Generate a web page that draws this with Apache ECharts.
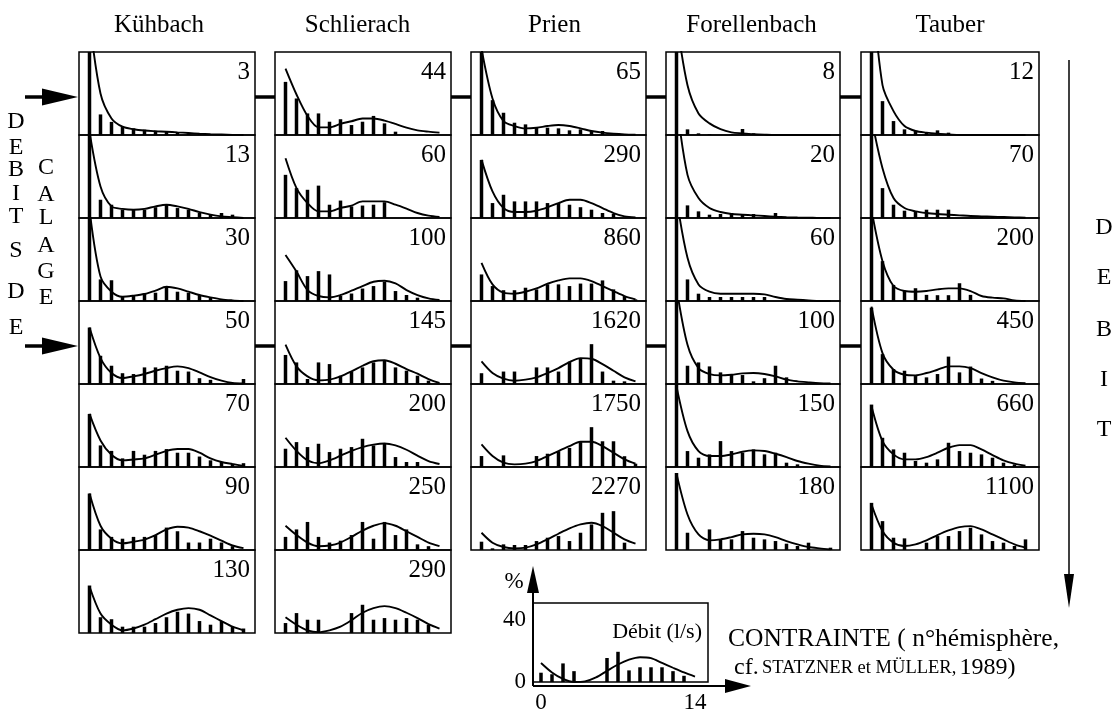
<!DOCTYPE html>
<html><head><meta charset="utf-8">
<script src="https://cdn.jsdelivr.net/npm/echarts@6.0.0/dist/echarts.min.js"></script>
<style>html,body{margin:0;padding:0;background:#fff;}#chart{width:1117px;height:714px;}</style>
</head><body><div id="chart"></div>
<script>
// x axis: stress classes (FST hemisphere number 0..14), y axis: % of individuals
const stressClasses = [0,1,2,3,4,5,6,7,8,9,10,11,12,13,14];
const streams = ['Kühbach','Schlierach','Prien','Forellenbach','Tauber'];

// discharge (l/s) of each panel
const kuhbachFlows = [3,13,30,50,70,90,130];
const schlierachFlows = [44,60,100,145,200,250,290];
const prienFlows = [65,290,860,1620,1750,2270];
const forellenbachFlows = [8,20,60,100,150,180];
const tauberFlows = [12,70,200,450,660,1100];

// histogram bars (%), one row per discharge
const kuhbachBars = [
  [70,12.4,7.9,5,4,3.2,2.6,2.2,1.6,1,1.2,0,0,0,0],
  [70,11,8,5,5,5,6.5,8,6,5,3,2,3,2,0],
  [70,13,12.5,3,3.6,4.6,5,9,5.6,5,3.6,2.2,0,0,0],
  [34,17,11,6.5,6,10,10,11,8,7.5,3.5,2.5,0,0,3],
  [32,13,9.7,5.2,9.7,7.4,9.7,10.8,8.6,8.6,6.3,4,3,1.8,2.3],
  [34,12.4,7.9,6.8,7.9,7.9,9,13.5,11.3,4.5,4.5,6.8,4.5,2.3,0],
  [28.6,9.5,8.3,3.8,3.8,3.8,6,9.5,12.8,11.7,7.2,5,7.2,3.8,2.7]
];
const schlierachBars = [
  [32,22,13,13,8,9.5,6,8,11.5,7,2,0,0,0,0],
  [26,18,17,19.5,8,10.5,7,7.5,8,9.5,0,0,0,0,0],
  [12,18.5,15,18,16,3,4.5,7.5,9,11.6,6,3.6,2,0,0],
  [17.5,13,3,13,12,5,7.5,10,13,14,10,8,5,2,0],
  [11,15,12,14,9,11,12,17,13,14,6,3,3,0,0],
  [7.9,12.4,16.9,7.9,4.5,5.6,9,16.9,6.8,16.9,9,12.4,3.4,2.3,0],
  [6,12,8,8,0,0,12,17,8,9,8,9,8,5,0]
];
const prienBars = [
  [70,21,13.4,7.4,6.4,4.8,4.4,4,2.8,3.4,2.4,2.4,0,0,0],
  [35,9,14,10,10,10,9,9,8,6.5,5,3,2.5,0,0],
  [16,9,6.5,6.5,8,7,10,10,9,10.5,10.5,12.4,7,3,1],
  [6.5,0,7.5,7.5,0,10,10,7.5,13.5,15.5,24,7.5,2,1.6,0],
  [6.6,0,7,0,0,6.6,8,9.5,11.5,15,24,15.5,15.5,6.5,2],
  [5,1,3.4,3,3,5.4,7.4,8.4,5.4,10.4,15.4,22.4,23.4,4.4,0]
];
const forellenbachBars = [
  [70,3.4,1,0.5,0,0.5,3.6,1,0,0,0,0,0,0,0],
  [70,7.6,4,2,2.4,3,2,2.4,0,3,0,0,0,0,0],
  [70,13,4.4,2.4,2.4,2.4,2.4,2.4,2.4,0,0,0,0,0,0],
  [70,11,13,10.6,7,6,5.4,1.6,3.5,11,4,0,0,0,0],
  [50,9.6,5.6,7.6,15.6,9.6,8.6,10.6,7.6,8.6,2.6,1.6,0,0,0],
  [46.4,10.4,0,12.4,6.4,6.4,11.4,7.4,6.4,5.4,3.8,2.4,4.4,0,1.4]
];
const tauberBars = [
  [70,20.4,8.4,3.4,2.4,1.4,2.8,1.4,0,0,0,0,0,0,0],
  [70,18,8,4.4,4,5,5,5,0,0,1,1,1,0,0],
  [70,24,9.7,6.2,7.7,3.7,3.5,3.5,10.7,3.7,0,0,0,0,0],
  [46,18,9,8,4.8,4,6,16.5,7,10.5,3.3,1.9,0,0,0],
  [37.6,17.6,10.6,8.6,3.6,2.6,4.6,14.6,9.6,8.6,7.6,5.6,2.6,1.6,0],
  [28.4,17.4,7.4,7,0,4.4,8.4,8.4,11.4,13.4,9.4,5.4,4.4,2.4,6.4]
];

// predicted curves (%)
const kuhbachCurves = [
  [70,25,10,5,3.5,2.7,2.3,2,1.6,1.2,0.8,0.5,0.3,0.1,0],
  [52,19,7,5.5,5,5.5,7,8,7,5.5,3.5,2,1,0.5,0],
  [55,14.7,5.6,2.6,3.2,4.2,6.2,8.6,7.6,5.6,3.6,2.2,1,0.4,0],
  [34,15.6,6.6,3.6,4.6,6,8,9.6,10.6,9.6,7,4.2,2,0.6,0.3],
  [32,16,7.4,4,4.5,5.2,7.4,9.7,10.8,10.8,8.6,5.2,3,1.8,0.7],
  [34,14.6,6.8,4,5,6.3,9,12.4,14,13.5,11.3,8.6,5.6,2.7,1.1],
  [28,11.7,5,1.6,2.7,5,8.3,11.7,14,15,14,10.6,7.2,3.8,1.6]
];
const schlierachCurves = [
  [40,24.4,11.5,4.6,4.6,6.7,8.3,9.9,9.9,8.7,6.7,4.4,2.8,2,1.4],
  [36,18,9,4,4,6,7.5,10,10,10,8,5.6,3,1.4,0.6],
  [27.7,17.7,6.6,3,2.2,3.6,6.2,9,11.6,12.2,10.6,6.6,3.6,1.6,0.6],
  [23.7,10.6,4.6,2.2,2.6,4.6,7.6,11,13.7,14.3,12.2,9,6.2,3,0.6],
  [17.6,9.7,4,2.3,4,6.8,9.7,12,13.5,14.2,13,10.4,6.8,3.6,1.8],
  [14.6,9,4.5,2.3,2.7,4.5,7.9,11.7,14.6,16.2,14.6,11.3,7.9,4.5,2.3],
  [9.5,5,1.6,0.5,1.6,3.8,7.7,12.2,15,16.2,15,12.2,9,5.4,2.7]
];
const prienCurves = [
  [52,22,8.4,5.4,4,4.4,5.4,6,5.4,4,2.4,1.4,0.8,0.4,0.2],
  [35,16,6,3.6,3.6,4.4,6.4,9,11,11,9,6,3,1,0.4],
  [23,10,5,4.4,5.6,7.6,10.4,12.4,13.6,13.6,12,9,6,3,1],
  [13.6,6.6,3.2,2,2.6,4,6.6,9.6,13.2,15.6,15.2,12,8,4,1.6],
  [13.6,6.6,2.6,1.6,2,3.6,6.6,9.6,12.6,15.2,15.2,12.6,8.6,4.6,2],
  [10.4,4.4,1.8,1,1.4,3.4,6.4,9.8,13,15.4,16.4,14.4,10.4,6.4,3.8]
];
const forellenbachCurves = [
  [70,30,13,7,3.5,1.6,1,0.5,0.2,0,0,0,0,0,0],
  [70,26,12,6,3.6,2.4,2,1.6,1.2,0.8,0.5,0.3,0.2,0,0],
  [62,26,10,5.6,4.4,4.4,4.4,4.4,4,2.4,1.2,0.8,0.4,0,0],
  [58,23.6,9.6,6,5.2,5.6,6.4,6.6,6,4.6,2.6,1.6,1,0.5,0.3],
  [48.6,21.6,9.6,6.6,6.6,7.6,9.2,10,9.6,8,6,3.6,2,0.8,0.3],
  [46,21.4,9.4,5.8,6.4,7.8,9.4,9.8,9.4,7.8,5.4,3.4,1.8,1,0.4]
];
const tauberCurves = [
  [95,30,14.4,5.4,2.4,1.4,0.8,0.4,0,0,0,0,0,0,0],
  [60,30,12,6,4,3,2.4,2,1.6,1.2,1,0.8,0.6,0.4,0.2],
  [55,24,9,6,5.6,6,7,7.6,7.6,6,3,2,1.6,0.4,0],
  [46.6,18.6,8.6,5.6,5.2,6.6,8.6,10.6,10.6,9.6,6.6,4,2,1,0.5],
  [36.6,15.6,7.6,4.6,4.6,6,8.6,11.6,13.2,13.2,10.6,7.2,4,2,0.8],
  [27.4,11.4,4.4,2.4,3.4,5.8,9,11.8,13.8,14.4,12.4,9.4,6.4,3.4,1.4]
];

// key panel
const keyBars = [6,5,12,7,0,0,15.5,19.5,7.5,9.5,9.5,9.5,7,4,0];
const keyCurve = [12.3,6.2,2,0,0.4,3,7.2,11.3,14.4,16,15.4,12.3,9.2,6.2,3.5];
const keyXTicks = [0,14];
const keyYTicks = [0,40];

const FONT = '"Liberation Serif", "DejaVu Serif", serif';
const columns = [
  {name: streams[0], flows: kuhbachFlows, bars: kuhbachBars, curves: kuhbachCurves},
  {name: streams[1], flows: schlierachFlows, bars: schlierachBars, curves: schlierachCurves},
  {name: streams[2], flows: prienFlows, bars: prienBars, curves: prienCurves},
  {name: streams[3], flows: forellenbachFlows, bars: forellenbachBars, curves: forellenbachCurves},
  {name: streams[4], flows: tauberFlows, bars: tauberBars, curves: tauberCurves}
];

const colLeft = [79, 275, 471, 666, 861];
const colW = [176, 176, 175, 174, 178];
const titleX = [159, 357.5, 554.5, 751.5, 950];
const top0 = 52, rowH = 83, step = 11, xOff = 10.5;

const grids = [], xAxes = [], yAxes = [], series = [], graphics = [];

function txt(text, x, y, size, align, valign) {
  return {type: 'text', x: x, y: y, silent: true, z: 10,
    style: {text: text, font: size + 'px ' + FONT, fill: '#000', textAlign: align || 'center', textVerticalAlign: valign || 'middle'}};
}
function line(x1, y1, x2, y2, w) {
  return {type: 'line', silent: true, z: 10, shape: {x1: x1, y1: y1, x2: x2, y2: y2}, style: {stroke: '#000', lineWidth: w}};
}
function poly(points) {
  return {type: 'polygon', silent: true, z: 10, shape: {points: points}, style: {fill: '#000'}};
}

function addPanel(left, top, w, h, bars, curve, yMax, xMin) {
  const gi = grids.length;
  grids.push({left: left, top: top, width: w, height: h, show: true, borderColor: '#000', borderWidth: 1.5, backgroundColor: 'rgba(0,0,0,0)'});
  xAxes.push({gridIndex: gi, type: 'value', min: xMin, max: xMin + w / step, show: false});
  yAxes.push({gridIndex: gi, type: 'value', min: 0, max: yMax, show: false});
  series.push({type: 'bar', xAxisIndex: gi, yAxisIndex: gi, barWidth: 3.5, silent: true, clip: true,
    itemStyle: {color: '#000'}, data: bars.map((v, i) => [stressClasses[i], v])});
  series.push({type: 'line', xAxisIndex: gi, yAxisIndex: gi, smooth: 0.3, symbol: 'none', silent: true, clip: true,
    lineStyle: {color: '#000', width: 1.9}, data: curve.map((v, i) => [stressClasses[i], v])});
  return gi;
}

columns.forEach((col, c) => {
  const left = colLeft[c], w = colW[c];
  graphics.push(txt(col.name, titleX[c], 25, 25));
  col.bars.forEach((b, r) => {
    const top = top0 + r * rowH;
    addPanel(left, top, w, rowH, b, col.curves[r], 50, -xOff / step);
    graphics.push(txt(String(col.flows[r]), left + w - 5, top + 20, 25, 'right'));
  });
});

// key panel
const kL = 533, kT = 603, kW = 175, kH = 83;
const kg = addPanel(kL, kT, kW, kH, keyBars, keyCurve, 51, -8 / step);
xAxes[kg].show = true;
xAxes[kg].axisLine = {show: false};
xAxes[kg].axisTick = {show: false};
xAxes[kg].splitLine = {show: false};
xAxes[kg].axisLabel = {show: true, customValues: keyXTicks, margin: 9, color: '#000', fontSize: 23, fontFamily: FONT};
yAxes[kg].show = true;
yAxes[kg].axisLine = {show: false};
yAxes[kg].axisTick = {show: false};
yAxes[kg].splitLine = {show: false};
yAxes[kg].axisLabel = {show: true, customValues: keyYTicks, margin: 7, color: '#000', fontSize: 23, fontFamily: FONT};

// key axes arrows
graphics.push(line(kL, kT + kH, kL, 590, 2));
graphics.push(poly([[kL, 566], [kL - 6, 593], [kL + 6, 593]]));
graphics.push(line(kL, kT + kH, 728, kT + kH, 2));
graphics.push(poly([[751, kT + kH], [725, kT + kH - 7], [725, kT + kH + 7]]));
graphics.push(txt('%', 514, 582, 23));
graphics.push(txt('Débit (l/s)', kL + kW - 6, 632, 22, 'right'));

graphics.push(txt('CONTRAINTE ( n°hémisphère,', 728, 639, 25.5, 'left'));
graphics.push({type: 'text', x: 734, y: 668, silent: true, z: 10,
  style: {text: '{a|cf.} {b|STATZNER et MÜLLER,} {a|1989)}', textAlign: 'left', textVerticalAlign: 'middle', fill: '#000',
    rich: {a: {fontSize: 24, fontFamily: FONT, fill: '#000'}, b: {fontSize: 18.5, fontFamily: FONT, fill: '#000'}}}});

// connectors between calibration panels
[97, 346].forEach(y => {
  for (let c = 0; c < 4; c++) graphics.push(line(colLeft[c] + colW[c], y, colLeft[c + 1], y, 3.5));
  graphics.push(line(25, y, 50, y, 3.5));
  graphics.push(poly([[78, y], [42, y - 8.5], [42, y + 8.5]]));
});

// left vertical labels
const leftA = ['D','E','B','I','T','S','D','E'];
const leftAY = [122, 148, 170, 194, 217, 251, 292, 328];
leftA.forEach((ch, i) => graphics.push(txt(ch, 16, leftAY[i], 24)));
const leftB = ['C','A','L','A','G','E'];
const leftBY = [168, 195, 218, 246, 272, 298];
leftB.forEach((ch, i) => graphics.push(txt(ch, 46, leftBY[i], 24)));

// right discharge arrow
graphics.push(line(1069, 60, 1069, 585, 1.5));
graphics.push(poly([[1069, 608], [1064, 574], [1074, 574]]));
const rightA = ['D','E','B','I','T'];
const rightAY = [228, 278, 330, 380, 430];
rightA.forEach((ch, i) => graphics.push(txt(ch, 1104, rightAY[i], 24)));

const chart = echarts.init(document.getElementById('chart'), null, {renderer: 'canvas'});
chart.setOption({
  animation: false,
  backgroundColor: '#fff',
  grid: grids, xAxis: xAxes, yAxis: yAxes, series: series,
  graphic: {elements: graphics}
});
</script></body></html>
